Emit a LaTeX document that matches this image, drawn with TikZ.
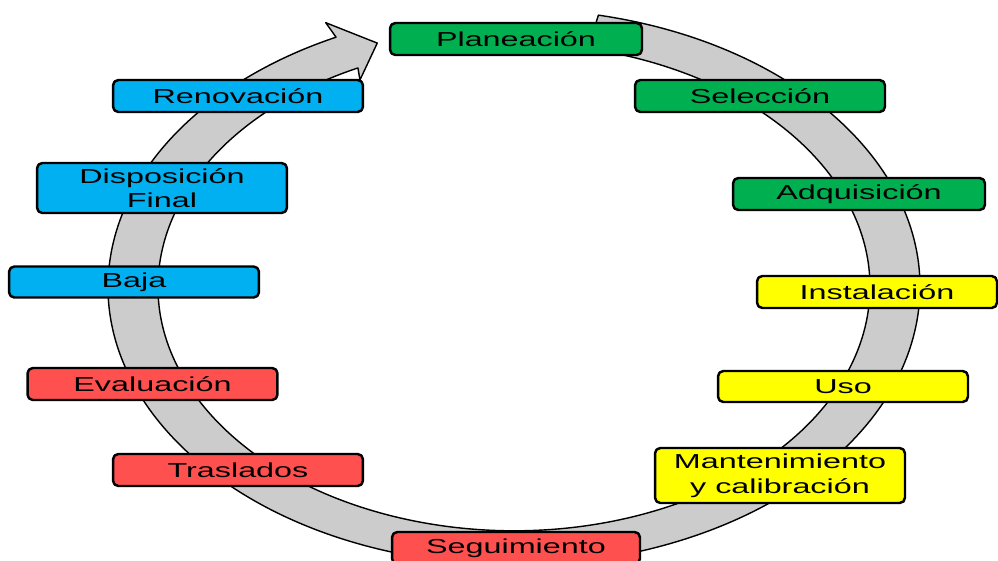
\documentclass[tikz,border=0pt]{standalone}
\usepackage{fontspec}
\usepackage{tikz}
\newfontfamily\stagefont[FakeStretch=1.6]{Liberation Sans}
\definecolor{plangreen}{RGB}{0,176,80}
\definecolor{stageyellow}{RGB}{255,255,0}
\definecolor{stagered}{RGB}{255,80,80}
\definecolor{stageblue}{RGB}{0,176,240}
\definecolor{ringgray}{RGB}{204,204,204}
\tikzset{
  stage/.style={draw=black,line width=1.4pt,rounded corners=3pt,inner sep=0pt,
    minimum width=5cm,minimum height=0.64cm,align=center,
    font=\stagefont\fontsize{11.5pt}{14pt}\selectfont},
  ring/.style={draw=black,line width=0.8pt,fill=ringgray,line join=round}
}

\begin{document}
\begin{tikzpicture}[line cap=round,line join=round,x=0.02cm,y=-0.02cm]
\useasboundingbox (0,0) rectangle (998,561);
\begin{scope}[shift={(514,287)},x=8.12cm,y=5.56cm]
\draw [ring] (78:1) arc[start angle=78,end angle=-244,x radius=8.12cm,y radius=5.56cm]
  -- (116:1.058) -- (111:0.94) -- (117:0.836) -- (116:0.877)
  arc[start angle=-244,end angle=78,x radius=7.12cm,y radius=4.876cm] -- cycle;
\end{scope}
\node [stage,fill=plangreen,minimum width=5.04cm] (plan) at (516,39) {Planeación};
\node [stage,fill=plangreen] (sel) at (760,96) {Selección};
\node [stage,fill=plangreen,minimum width=5.04cm] (adq) at (859,194) {Adquisición};
\node [stage,fill=stageyellow,minimum width=4.8cm] (inst) at (877,292) {Instalación};
\node [stage,fill=stageyellow,minimum height=0.62cm] (uso) at (843,386.5) {Uso};
\node [stage,fill=stageyellow,minimum height=1.1cm] (mant) at (780,475.5) {Mantenimiento\\y calibración};
\node [stage,fill=stagered,minimum width=4.96cm] (seg) at (516,548) {Seguimiento};
\node [stage,fill=stagered] (tras) at (238,470) {Traslados};
\node [stage,fill=stagered] (eval) at (152.5,384) {Evaluación};
\node [stage,fill=stageblue,minimum height=0.62cm] (baja) at (134,282) {Baja};
\node [stage,fill=stageblue,minimum height=1cm] (disp) at (162,188) {Disposición\\Final};
\node [stage,fill=stageblue] (ren) at (238,96) {Renovación};
\end{tikzpicture}
\end{document}
